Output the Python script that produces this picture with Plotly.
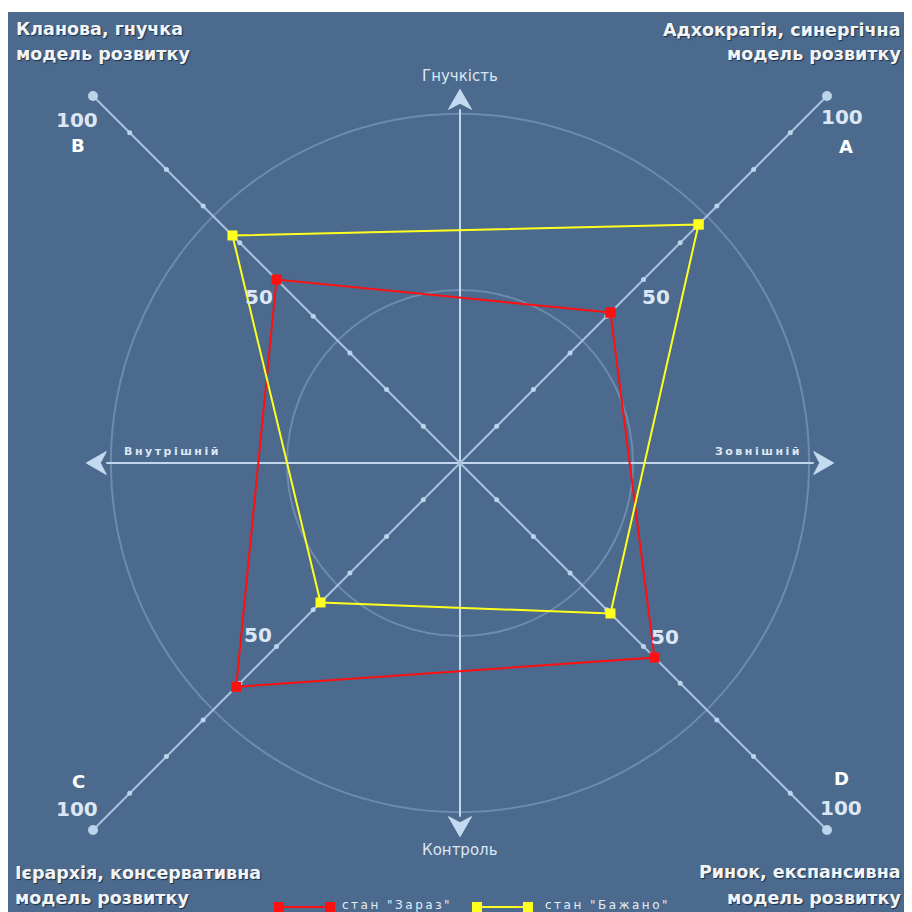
import numpy as np
import plotly.graph_objects as go

# ---------------- data ----------------
axis_names = ["A", "B", "C", "D"]
axis_angles_deg = [45, 135, 225, 315]
now_values = [41, 50, 61, 53]          # стан "Зараз"
desired_values = [65, 62, 38, 41]      # стан "Бажано"
tick_values = [10, 20, 30, 40, 50, 60, 70, 80, 90, 100]
label_values = [50, 100]
series_names = ['стан "Зараз"', 'стан "Бажано"']
corner_titles = [
    ["Кланова, гнучка", "модель розвитку"],
    ["Адхократія, синергічна", "модель розвитку"],
    ["Ієрархія, консервативна", "модель розвитку"],
    ["Ринок, експансивна", "модель розвитку"],
]
dir_top, dir_bottom, dir_left, dir_right = "Гнучкість", "Контроль", "Внутрішній", "Зовнішній"

# ---------------- geometry / style ----------------
BG = "#4b6a8d"
RED = "#ff1010"
YEL = "#ffff20"
AXIS_COL = "#a8c2de"
CROSS_COL = "#c2d7ee"
TXT = "#dbe7f4"

PLOT_L, PLOT_T, PLOT_W, PLOT_H = 8, 12, 904, 900   # plot area in page pixels
CX, CY = 460, 463                                  # centre in page pixels
SCALE = 367 / (100 * np.cos(np.pi / 4))            # px per unit

x_range = [(PLOT_L - CX) / SCALE, (PLOT_L + PLOT_W - CX) / SCALE]
y_range = [-(PLOT_T + PLOT_H - CY) / SCALE, (CY - PLOT_T) / SCALE]

def px_x(px):
    return (px - PLOT_L) / PLOT_W

def px_y(py):
    return 1 - (py - PLOT_T) / PLOT_H

ang = np.deg2rad(np.array(axis_angles_deg))
ux, uy = np.cos(ang), np.sin(ang)

fig = go.Figure()

# diagonal axes
for i in range(2):
    fig.add_trace(go.Scatter(
        x=[tick_values[-1] * ux[i], tick_values[-1] * ux[i + 2]],
        y=[tick_values[-1] * uy[i], tick_values[-1] * uy[i + 2]],
        mode="lines", line=dict(color=AXIS_COL, width=2),
        hoverinfo="skip", showlegend=False))

# tick dots
tv = np.array(tick_values)
small = tv[tv < 100]
for i in range(4):
    fig.add_trace(go.Scatter(
        x=small * ux[i], y=small * uy[i], mode="markers",
        marker=dict(size=5, color="#bcd3ec"), hoverinfo="skip", showlegend=False))
    fig.add_trace(go.Scatter(
        x=[100 * ux[i]], y=[100 * uy[i]], mode="markers",
        marker=dict(size=10, color="#bcd3ec"), hoverinfo="skip", showlegend=False))

def closed(vals):
    v = np.array(vals + vals[:1], dtype=float)
    a = np.concatenate([ang, ang[:1]])
    return v * np.cos(a), v * np.sin(a)

xr, yr = closed(now_values)
fig.add_trace(go.Scatter(x=xr, y=yr, mode="lines+markers", name=series_names[0],
                         line=dict(color=RED, width=2),
                         marker=dict(symbol="square", size=10, color=RED),
                         showlegend=False))
xy_, yy_ = closed(desired_values)
fig.add_trace(go.Scatter(x=xy_, y=yy_, mode="lines+markers", name=series_names[1],
                         line=dict(color=YEL, width=2),
                         marker=dict(symbol="square", size=10, color=YEL),
                         showlegend=False))

shapes = []
# circles
for r in [100 / 3, 200 / 3 + 0.6]:
    shapes.append(dict(type="circle", xref="x", yref="y", x0=-r, x1=r, y0=-r, y1=r,
                       line=dict(color="rgba(175,200,228,0.35)", width=2), layer="below"))
# cross lines + arrowheads
TIP = 72
HL = 20 / SCALE
HW = 11.5 / SCALE
shapes.append(dict(type="line", xref="x", yref="y", x0=-TIP + HL, x1=TIP - HL, y0=0, y1=0,
                   line=dict(color=CROSS_COL, width=2), layer="below"))
shapes.append(dict(type="line", xref="x", yref="y", x0=0, x1=0, y0=-TIP + HL, y1=TIP - HL,
                   line=dict(color=CROSS_COL, width=2), layer="below"))
for sx, sy in [(1, 0), (-1, 0), (0, 1), (0, -1)]:
    tipx, tipy = sx * TIP, sy * TIP
    bx, by = sx * (TIP - HL), sy * (TIP - HL)
    nx, ny = -sy * HW, sx * HW
    mx, my = sx * (TIP - HL * 0.7), sy * (TIP - HL * 0.7)
    path = (f"M{tipx},{tipy} L{bx + nx},{by + ny} L{mx},{my} L{bx - nx},{by - ny} Z")
    shapes.append(dict(type="path", xref="x", yref="y", path=path,
                       fillcolor="#c4daf0", line=dict(color="#c4daf0", width=1), layer="below"))

# custom legend keys
leg_y = px_y(907)
for (x0, x1, col) in [(279, 330, RED), (477, 528, YEL)]:
    shapes.append(dict(type="line", xref="paper", yref="paper", x0=px_x(x0), x1=px_x(x1),
                       y0=leg_y, y1=leg_y, line=dict(color=col, width=2)))
    for cx in (x0, x1):
        shapes.append(dict(type="rect", xref="paper", yref="paper",
                           x0=px_x(cx - 5), x1=px_x(cx + 5), y0=px_y(912), y1=px_y(902),
                           fillcolor=col, line=dict(width=0)))

ann = []
FONT = "DejaVu Sans"
# corner titles
title_font = dict(family=FONT, size=17.5, color="#f2f5f8", weight="bold",
                  shadow="1px 1px 1px #1e3048")
corner_pos = [
    (14, [29, 54], "left"),
    (903, [30, 54], "right"),
    (13, [873, 898], "left"),
    (903, [872, 898], "right"),
]
for (xp, ys, anchor), lines in zip(corner_pos, corner_titles):
    for yp, txt in zip(ys, lines):
        ann.append(dict(text=txt, xref="paper", yref="paper", x=px_x(xp), y=px_y(yp),
                        xanchor=anchor, yanchor="middle", showarrow=False, font=title_font))

# direction labels
dfont = dict(family=FONT, size=15, color=TXT)
ann.append(dict(text=dir_top, x=0, y=(CY - 76) / SCALE, xref="x", yref="y",
                showarrow=False, font=dfont, xanchor="center", yanchor="middle"))
ann.append(dict(text=dir_bottom, x=0, y=-(850 - CY) / SCALE, xref="x", yref="y",
                showarrow=False, font=dfont, xanchor="center", yanchor="middle"))
sfont = dict(family=FONT, size=11, color=TXT, weight="bold")
ann.append(dict(text=f'<span style="letter-spacing:2.5px">{dir_left}</span>',
                x=(122 - CX) / SCALE, y=(CY - 451) / SCALE, xref="x", yref="y",
                showarrow=False, font=sfont, xanchor="left", yanchor="middle"))
ann.append(dict(text=f'<span style="letter-spacing:2.5px">{dir_right}</span>',
                x=(804 - CX) / SCALE, y=(CY - 451) / SCALE, xref="x", yref="y",
                showarrow=False, font=sfont, xanchor="right", yanchor="middle"))

# value labels (50 / 100) and axis letters
shift_100 = {45: (15, -21), 135: (-16, -24), 225: (-16, 21), 315: (14, 22)}
shift_let = {45: (19, -50), 135: (-15, -49), 225: (-15, 49), 315: (14, 52)}
shift_50 = {45: (12, -17), 135: (-18, -17), 225: (-19, 12), 315: (21, 10)}
for i, a in enumerate(axis_angles_deg):
    for v in label_values:
        sh = shift_100[a] if v == 100 else shift_50[a]
        ann.append(dict(text=str(v), x=v * ux[i], y=v * uy[i], xref="x", yref="y",
                        xshift=sh[0], yshift=sh[1], showarrow=False,
                        font=dict(family=FONT, size=20, color=TXT, weight="bold")))
    sh = shift_let[a]
    ann.append(dict(text=axis_names[i], x=100 * ux[i], y=100 * uy[i], xref="x", yref="y",
                    xshift=sh[0], yshift=sh[1], showarrow=False,
                    font=dict(family=FONT, size=18, color="#ffffff", weight="bold")))

# legend texts
lfont = dict(family=FONT, size=12, color="#e4edf6")
for xp, name in [(340, series_names[0]), (543, series_names[1])]:
    ann.append(dict(text=f'<span style="letter-spacing:2.5px">{name}</span>',
                    xref="paper", yref="paper", x=px_x(xp), y=px_y(905),
                    xanchor="left", yanchor="middle", showarrow=False, font=lfont))

fig.update_layout(
    width=904, height=904,
    margin=dict(l=0, r=0, t=4, b=0, pad=0),
    paper_bgcolor="white", plot_bgcolor=BG,
    xaxis=dict(range=x_range, visible=False, fixedrange=True),
    yaxis=dict(range=y_range, visible=False, fixedrange=True),
    shapes=shapes, annotations=ann, showlegend=False,
)
fig.write_html("out.html")
